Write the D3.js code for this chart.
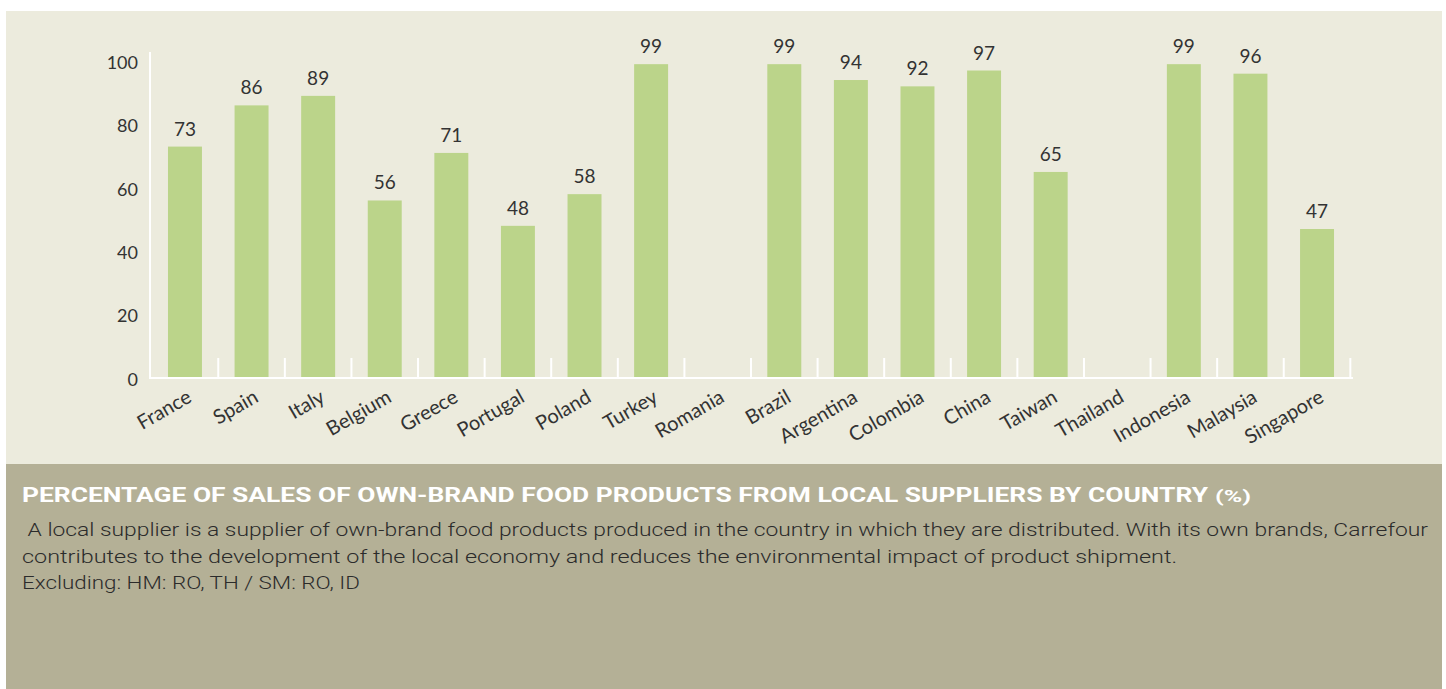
<!DOCTYPE html>
<html>
<head>
<meta charset="utf-8">
<script src="https://cdn.jsdelivr.net/npm/d3@7"></script>
<style>
  html, body { margin: 0; padding: 0; background: #ffffff; }
  svg { display: block; }
</style>
</head>
<body>
<div id="chart"></div>
<script>
// chart data
var countries = ["France", "Spain", "Italy", "Belgium", "Greece", "Portugal", "Poland", "Turkey", "Romania",
    "Brazil", "Argentina", "Colombia", "China", "Taiwan", "Thailand", "Indonesia", "Malaysia", "Singapore"];
var values = [73, 86, 89, 56, 71, 48, 58, 99, null, 99, 94, 92, 97, 65, null, 99, 96, 47];
var yTicks = [0, 20, 40, 60, 80, 100];

var titleText = "PERCENTAGE OF SALES OF OWN-BRAND FOOD PRODUCTS FROM LOCAL SUPPLIERS BY COUNTRY";
var titleUnit = "(%)";
var noteLines = [
    " A local supplier is a supplier of own-brand food products produced in the country in which they are distributed. With its own brands, Carrefour",
    "contributes to the development of the local economy and reduces the environmental impact of product shipment.",
    "Excluding: HM: RO, TH / SM: RO, ID"
];

var width = 1446, height = 689;
var font = "Lato, 'Open Sans', sans-serif";

var svg = d3.select("#chart").append("svg")
    .attr("width", width)
    .attr("height", height);

// panels
svg.append("rect").attr("x", 6).attr("y", 11).attr("width", 1436).attr("height", 453).attr("fill", "#ecebdd");
svg.append("rect").attr("x", 6).attr("y", 464).attr("width", 1436).attr("height", 225).attr("fill", "#b4b096");

var x = d3.scaleBand()
    .domain(countries)
    .range([150, 1352])
    .paddingInner(0.49)
    .paddingOuter(0.27);

var y = d3.scaleLinear()
    .domain([0, 100])
    .range([378, 61]);

var data = countries.map(function (c, i) { return {country: c, value: values[i]}; });

// y axis labels
var yAxis = svg.append("g")
    .attr("transform", "translate(150,0)")
    .call(d3.axisLeft(y).tickValues(yTicks).tickSize(0).tickPadding(12));
yAxis.select(".domain").remove();
yAxis.selectAll("text")
    .attr("font-family", font)
    .attr("font-size", 18)
    .attr("fill", "#333333")
    .attr("dy", "0.4em");

// bars
svg.selectAll("rect.bar")
    .data(data.filter(function (d) { return d.value !== null; }))
    .enter().append("rect")
    .attr("class", "bar")
    .attr("x", function (d) { return x(d.country); })
    .attr("y", function (d) { return y(d.value); })
    .attr("width", x.bandwidth())
    .attr("height", function (d) { return y(0) - y(d.value); })
    .attr("fill", "#bbd48a");

// value labels
svg.selectAll("text.val")
    .data(data.filter(function (d) { return d.value !== null; }))
    .enter().append("text")
    .attr("class", "val")
    .attr("x", function (d) { return x(d.country) + x.bandwidth() / 2; })
    .attr("y", function (d) { return y(d.value) - 11; })
    .attr("text-anchor", "middle")
    .attr("font-family", font)
    .attr("font-size", 19)
    .attr("fill", "#333333")
    .text(function (d) { return d.value; });

// axis lines (white)
svg.append("line")
    .attr("x1", 150).attr("x2", 150)
    .attr("y1", 52).attr("y2", y(0))
    .attr("stroke", "#ffffff").attr("stroke-width", 2);
svg.append("line")
    .attr("x1", 149).attr("x2", 1353)
    .attr("y1", y(0)).attr("y2", y(0))
    .attr("stroke", "#ffffff").attr("stroke-width", 2);
svg.selectAll("line.sep")
    .data(countries)
    .enter().append("line")
    .attr("class", "sep")
    .attr("x1", function (d) { return x(d) + x.bandwidth() + x.step() * x.paddingInner() / 2; })
    .attr("x2", function (d) { return x(d) + x.bandwidth() + x.step() * x.paddingInner() / 2; })
    .attr("y1", y(0) - 20).attr("y2", y(0))
    .attr("stroke", "#ffffff").attr("stroke-width", 2);

// category labels
svg.selectAll("text.cat")
    .data(countries)
    .enter().append("text")
    .attr("class", "cat")
    .attr("transform", function (d) {
        return "translate(" + (x(d) + x.bandwidth() / 2 + 8) + ",401) rotate(-30)";
    })
    .attr("text-anchor", "end")
    .attr("font-family", font)
    .attr("font-size", 20)
    .attr("fill", "#333333")
    .text(function (d) { return d; });

// title
var title = svg.append("text")
    .attr("x", 22)
    .attr("y", 502)
    .attr("font-family", "Roboto, sans-serif")
    .attr("font-weight", 700)
    .attr("fill", "#ffffff");
title.append("tspan")
    .attr("font-size", 21)
    .attr("textLength", 1186)
    .attr("lengthAdjust", "spacingAndGlyphs")
    .text(titleText);
title.append("tspan")
    .attr("x", 1215)
    .attr("font-size", 16)
    .attr("textLength", 36)
    .attr("lengthAdjust", "spacingAndGlyphs")
    .text(titleUnit);

// notes
var noteWidths = [1406, 1155, 338];
var noteY = [536, 563, 589];
svg.selectAll("text.note")
    .data(noteLines)
    .enter().append("text")
    .attr("class", "note")
    .attr("x", 22)
    .attr("y", function (d, i) { return noteY[i]; })
    .attr("font-family", "Roboto, sans-serif")
    .attr("font-weight", 300)
    .attr("font-size", 19)
    .attr("fill", "#2b2b2b")
    .attr("xml:space", "preserve")
    .style("white-space", "pre")
    .attr("textLength", function (d, i) { return noteWidths[i]; })
    .attr("lengthAdjust", "spacingAndGlyphs")
    .text(function (d) { return d; });
</script>
</body>
</html>
